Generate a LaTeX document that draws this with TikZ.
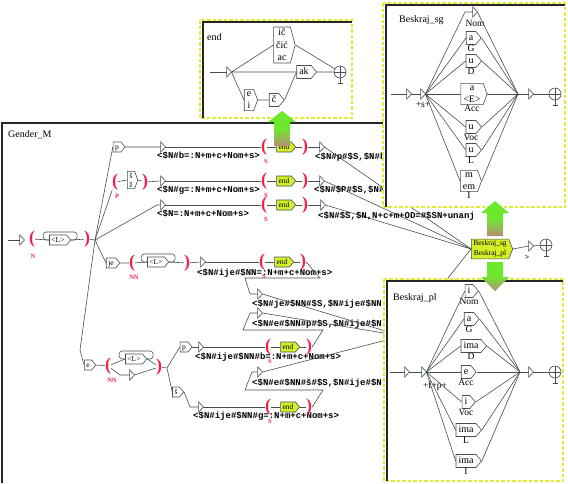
\documentclass[tikz,border=0pt]{standalone}
\usepackage{fontspec}
\setmainfont{Liberation Serif}
\setmonofont{Liberation Mono}
\usetikzlibrary{shapes.symbols}

\definecolor{linecol}{RGB}{70,80,80}
\definecolor{varred}{RGB}{235,35,75}
\definecolor{subyellow}{RGB}{214,240,40}
\definecolor{dashyellow}{RGB}{222,236,50}
\definecolor{arrgreen}{RGB}{110,232,45}
\definecolor{arrbrown}{RGB}{185,140,120}

\tikzset{
  trans/.style={draw=linecol, line width=0.6pt},
  uboxbase/.style={signal, signal to=east, signal pointer angle=100, draw=linecol,
    line width=0.6pt, fill=white, inner xsep=2pt, inner ysep=1.5pt, align=center,
    font=\fontsize{7.5}{9}\selectfont},
  ubox/.style={uboxbase, text height=5.5pt, text depth=1.5pt},
  subbox/.style={ubox, fill=subyellow},
  gbox/.style={uboxbase, font=\fontsize{10}{12.5}\selectfont, inner xsep=2.5pt, inner ysep=2pt},
  gbox1/.style={gbox, text height=7pt, text depth=2pt},
  eps/.style={rectangle, inner sep=0, minimum width=4.5pt, minimum height=10pt,
    append after command={\pgfextra{\draw[linecol, line width=0.6pt, fill=white]
      (\tikzlastnode.north west) -- (\tikzlastnode.east) -- (\tikzlastnode.south west) -- cycle;}}},
  fin/.style={circle, draw=linecol, line width=0.6pt, minimum size=12pt, inner sep=0, fill=white,
    path picture={\draw[linecol, line width=0.6pt]
      (path picture bounding box.north) -- (path picture bounding box.south)
      (path picture bounding box.west) -- (path picture bounding box.east);},
    append after command={\pgfextra{\draw[linecol, line width=0.6pt]
      (\tikzlastnode.south) -- ++(0,5) ++(-2.5,0) -- ++(5,0);}}},
  paren/.style={text=varred, inner sep=0, font=\bfseries\fontsize{18}{18}\selectfont},
  vlab/.style={text=varred, inner sep=0, font=\bfseries\fontsize{6.5}{7}\selectfont},
  outlab/.style={inner sep=0, anchor=west, font=\ttfamily\bfseries\fontsize{9}{9}\selectfont},
  lab/.style={inner sep=0, font=\fontsize{9.5}{10}\selectfont},
  wintitle/.style={inner sep=0, anchor=west, font=\fontsize{10}{10}\selectfont},
  win/.style={draw=dashyellow, line width=1.1pt, dash pattern=on 3.5pt off 2pt, fill=white},
  frm/.style={draw=black!85, line width=1.6pt},
  garrow/.style={draw=none, top color=arrgreen, bottom color=arrbrown, middle color=arrgreen},
}

% green arrow: centre x, tip y, head base y, tail y
\newcommand{\greenarrow}[4]{%
  \path[garrow] (#1,#2) -- ({#1+14},#3) -- ({#1+8},#3) -- ({#1+8},#4)
    -- ({#1-8},#4) -- ({#1-8},#3) -- ({#1-14},#3) -- cycle;}

\begin{document}
\begin{tikzpicture}[x=1pt, y=-1pt]
\useasboundingbox (0,0) rectangle (568,483);

% Gender_M
\draw[frm] (2,483) |- (390,123);
\node[wintitle] (tMain) at (8,135) {Gender\_M};
\coordinate (m0) at (8,240);
\node[eps] (mI) at (22,240) {};
\draw[trans] (m0) -- (mI);
\node[paren] (mPo1) at (32,239) {(};
\node[vlab] (mN) at (33,256) {N};
\node[ubox] (mL1) at (58,240) {<L>};
\node[paren] (mPc1) at (87,239) {)};
\coordinate (mJ) at (95,240);
\draw[trans] (mPo1) -- (mL1.west);
\draw[trans] (mL1.east) -- (mPc1) (mPc1) -- (mJ);
\draw[trans, rounded corners=3] (mL1.east) -- ++(6,0) |- ([xshift=-6pt, yshift=8pt]mL1.west) |- (mL1.west);

% Beskraj node
\node[uboxbase, fill=subyellow, font=\fontsize{7.5}{10}\selectfont, signal pointer angle=135] (mB) at (490,249) {Beskraj\_sg\\Beskraj\_pl};
\node[eps] (mBT) at (531,246) {};
\node[fin] (mBF) at (546,245) {};
\node[inner sep=0, font=\ttfamily\fontsize{7}{7}\selectfont] (mBo) at (527,257) {>};
\draw[trans] (mB.east) -- (mBT.west) (mBT.east) -- (mBF.west);

% upper branches
\node[ubox] (mP) at (117,147) {p};
\node[paren] (mPo2) at (115,182) {(};
\node[vlab] (mPv) at (117,196) {P};
\node[uboxbase, signal pointer angle=140] (mSZ) at (131,180) {š\\ž};
\node[paren] (mPc2) at (145,182) {)};
\node[eps] (mT1) at (163,147) {};
\node[eps] (mT2) at (163,181) {};
\node[eps] (mT3) at (163,205) {};
\draw[trans] (mJ) -- (mP.west) (mP.east) -- (mT1.west);
\draw[trans] (mJ) -- (mPo2) (mPo2) -- (mSZ.west) (mSZ.east) -- (mPc2) (mPc2) -- (mT2.west);
\draw[trans] (mJ) -- (157,205) -- (mT3.west);
\node[outlab] (o1) at (157,156) {<\$N\#b=:N+m+c+Nom+s>};
\node[outlab] (o2) at (157,190) {<\$N\#g=:N+m+c+Nom+s>};
\node[outlab] (o3) at (157,214) {<\$N=:N+m+c+Nom+s>};

% je branch
\node[ubox] (mJe) at (111,263) {je};
\node[paren] (mPo3) at (132,263) {(};
\node[vlab] (mNN1) at (134,277) {NN};
\node[ubox] (mL2) at (156,262) {<L>};
\node[paren] (mPc3) at (187,263) {)};
\node[eps] (mT4) at (203,262) {};
\draw[trans] (mJ) -- (mJe.west) (mJe.east) -- (mPo3) (mPo3) -- (mL2.west);
\draw[trans] (mL2.east) -- (mPc3) (mPc3) -- (mT4.west);
\draw[trans, rounded corners=3] (mL2.east) -- ++(6,0) |- ([xshift=-6pt, yshift=8pt]mL2.west) |- (mL2.west);
\node[outlab] (o4) at (197,273) {<\$N\#ije\#\$NN=:N+m+c+Nom+s>};

% e branch
\node[ubox] (mEb) at (88,365) {e};
\node[paren] (mPo4) at (108,366) {(};
\node[vlab] (mNN2) at (112,380) {NN};
\node[ubox] (mL3) at (134,359) {<L>};
\node[eps] (mEps) at (132,375) {};
\node[paren] (mPc4) at (159,367) {)};
\coordinate (mJ2) at (167,368);
\draw[trans] (mJ) -- (80,350) -- (mEb.west);
\draw[trans] (mEb.east) -- (mPo4) (mPo4) -- (mL3.west) (mL3.east) -- (mPc4);
\draw[trans] (mPo4) -- (120,375) -- (mEps.west) (mEps.east) -- (mPc4);
\draw[trans, rounded corners=3] (mL3.east) -- ++(6,0) |- ([xshift=-6pt, yshift=8pt]mL3.west) |- (mL3.west);
\node[ubox] (mP2) at (184,347) {p};
\node[ubox] (mS2) at (176,392) {š};
\node[eps] (mT5) at (201,347) {};
\node[eps] (mT6) at (201,407) {};
\draw[trans] (mPc4) -- (mJ2) (mJ2) -- (mP2.west) (mJ2) -- (mS2.west);
\draw[trans] (mP2.east) -- (mT5.west);
\draw[trans] (mS2.east) -- (190,407) -- (mT6.west);
\node[outlab] (o5) at (195,357) {<\$N\#ije\#\$NN\#b=:N+m+c+Nom+s>};
\node[outlab] (o6) at (193,416) {<\$N\#ije\#\$NN\#g=:N+m+c+Nom+s>};

% end calls
\foreach \n/\x/\y in {1/264/147,2/264/181,3/264/205,4/262/262,5/268/347,6/268/407}{
  \node[paren] (mSo\n) at (\x,\y) {(};
  \node[vlab] (mSs\n) at ({\x+2},{\y+14}) {S};
  \node[subbox] (mE\n) at ({\x+20},\y) {end};
  \node[paren] (mSc\n) at ({\x+41},\y) {)};
  \draw[trans] (mT\n.east) -- (mSo\n);
  \draw[trans] (mSo\n) -- (mE\n.west) (mE\n.east) -- (mSc\n);
}

% outputs to Beskraj
\node[eps] (mU1) at (322,147) {};
\node[eps] (mU2) at (322,181) {};
\node[eps] (mU3) at (323,205) {};
\foreach \n in {1,2,3}{
  \draw[trans] (mSc\n) -- (mU\n.west);
  \draw[trans] (mU\n.east) -- (mB.west);
}
\node[outlab] (u1) at (315,157) {<\$N\#p\#\$S,\$N\#b};
\node[outlab] (u2) at (314,190) {<\$N\#\$P\#\$S,\$N\#};
\node[outlab] (u3) at (318,216) {<\$N\#\$S,\$N,N+c+m+OD=\#\$SN+unanj};

% lower outputs
\node[eps] (mTa) at (260,294) {};
\node[eps] (mTb) at (260,313) {};
\node[eps] (mTd) at (260,372) {};
\coordinate (mH) at (402,336);
\draw[trans] (mSc4.east) -- (320,278) -- (245,278) -- (250,294) -- (mTa.west);
\draw[trans] (mSc5.east) -- (323,330) -- (243,330) -- (250,313) -- (mTb.west);
\draw[trans] (mSc6.east) -- (323,390) -- (245,390) -- (252,372) -- (mTd.west);
\node[outlab] (ua) at (252,304) {<\$N\#je\#\$NN\#\$S,\$N\#ije\#\$NN};
\node[outlab] (ub) at (252,324) {<\$N\#e\#\$NN\#p\#\$S,\$N\#ije\#\$N};
\node[outlab] (ud) at (252,383) {<\$N\#e\#\$NN\#š\#\$S,\$N\#ije\#\$N};
\foreach \r in {mTa,mTb,mTd}
  \draw[trans] (\r.east) -- (mH);
\draw[trans] (mH) -- (mB.west);

% window end
\path[win] (200,20) rectangle (352,118);
\draw[frm] (203,118) |- (352,22);
\node[wintitle] (tEnd) at (207,37) {end};
\coordinate (e0) at (210,72);
\node[eps] (eI) at (229,72) {};
\node[gbox, signal pointer angle=150] (eA) at (282,45) {ič\\čić\\ac};
\node[gbox1] (eB) at (304,72) {ak};
\node[gbox, signal pointer angle=140] (eC) at (249,100) {e\\i};
\node[gbox1] (eD) at (274,100) {č};
\node[fin] (eF) at (340,72) {};
\draw[trans] (e0) -- (eI);
\draw[trans] (eI.east) -- (eA.west) (eI.east) -- (eB.west) (eI.east) -- (eC.west);
\draw[trans] (eC.east) -- (eD.west) (eD.east) -- (eB.west);
\draw[trans] (eA.east) -- (eF) (eB.east) -- (eF.west);

% window Beskraj_sg
\path[win] (383,3) rectangle (565,207);
\draw[frm] (386,207) |- (565,5);
\node[wintitle] (tSg) at (399,20) {Beskraj\_sg};
\coordinate (s0) at (391,94);
\node[eps] (sI) at (409,94) {};
\node[eps] (sS) at (423,94) {};
\node[lab] (sSo) at (423,105) {+s+};
\node[eps] (sNom) at (475,12) {};
\node[lab] (sNoml) at (475,23) {Nom};
\node[gbox1, label={[lab, label distance=0.5pt]below:G}] (sG) at (471,38) {a};
\node[gbox1, label={[lab, label distance=0.5pt]below:D}] (sD) at (471,61) {u};
\node[gbox, signal pointer angle=140, label={[lab, label distance=0.5pt]below:Acc}] (sA) at (472,94) {a\\<E>};
\node[gbox1, label={[lab, label distance=0.5pt]below:Voc}] (sV) at (471,127) {u};
\node[gbox1, label={[lab, label distance=0.5pt]below:L}] (sL) at (471,150) {u};
\node[gbox, signal pointer angle=140, label={[lab, label distance=0.5pt]below:I}] (sIn) at (469,181) {m\\em};
\coordinate (sJ) at (518,94);
\node[eps] (sT) at (531,94) {};
\node[fin] (sF) at (555,94) {};
\draw[trans] (s0) -- (sI) (sI.east) -- (sS.west);
\draw[trans] (sS.east) -- (465,12) -- (sNom.west) (sNom.east) -- (sJ);
\foreach \b in {sG,sD,sA,sV,sL,sIn}{
  \draw[trans] (sS.east) -- (\b.west);
  \draw[trans] (\b.east) -- (sJ);
}
\draw[trans] (sJ) -- (sT.west) (sT.east) -- (sF.west);

% window Beskraj_pl
\path[win] (384,279) rectangle (563,481);
\draw[frm] (387,481) |- (563,281);
\node[wintitle] (tPl) at (393,298) {Beskraj\_pl};
\coordinate (p0) at (390,372);
\node[eps] (pI) at (407,372) {};
\node[eps] (pS) at (424,372) {};
\node[lab] (pSo) at (435,386) {+f+p+};
\node[gbox1, label={[lab, label distance=0.5pt]below:Nom}] (pN) at (469,291) {i};
\node[gbox1, label={[lab, label distance=0.5pt]below:G}] (pG) at (469,319) {a};
\node[gbox1, label={[lab, label distance=0.5pt]below:D}] (pD) at (471,346) {ima};
\node[gbox1, label={[lab, label distance=0.5pt]below:Acc}] (pA) at (466,372) {e};
\node[gbox1, label={[lab, label distance=0.5pt]below:Voc}] (pV) at (466,402) {i};
\node[gbox1, label={[lab, label distance=0.5pt]below:L}] (pL) at (466,430) {ima};
\node[gbox1, label={[lab, label distance=0.5pt]below:I}] (pIn) at (466,461) {ima};
\coordinate (pJ) at (520,372);
\node[eps] (pT) at (531,372) {};
\node[fin] (pF) at (555,372) {};
\draw[trans] (p0) -- (pI) (pI.east) -- (pS.west);
\foreach \b in {pN,pG,pD,pA,pV,pL,pIn}{
  \draw[trans] (pS.east) -- (\b.west);
  \draw[trans] (\b.east) -- (pJ);
}
\draw[trans] (pJ) -- (pT.west) (pT.east) -- (pF.west);

% green arrows
\greenarrow{282}{111}{122}{146}
\greenarrow{495}{201}{213}{236}
\greenarrow{495}{291}{277}{262}
\end{tikzpicture}
\end{document}
